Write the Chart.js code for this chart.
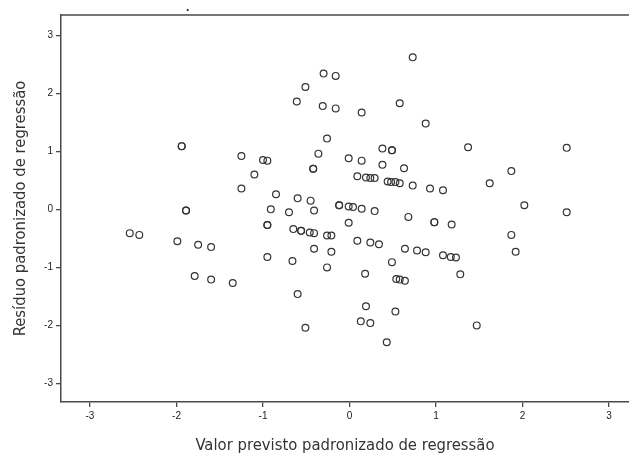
<!DOCTYPE html>
<html>
<head>
<meta charset="utf-8">
<script src="https://cdn.jsdelivr.net/npm/chart.js@4"></script>
<style>
    html, body { margin: 0; padding: 0; background: #fff; }
    canvas { display: block; }
</style>
</head>
<body>
<canvas id="residualChart" width="629" height="459"></canvas>
<script>
// valor previsto padronizado (x) e resíduo padronizado (y)
const predictedValues = [
    -2.54, -2.43, -1.99, -1.75, -1.60, -1.79, -1.60, -1.35, -0.95, -0.95,
    -0.65, -0.66, -0.60, -0.51, -0.56, -0.46, -0.41, -0.41, -1.94, -1.89,
    -1.25, -1.00, -0.95, -1.10, -1.25, -0.85, -0.60, -0.45, -0.91, -0.70,
    -0.41, -0.61, -0.51, -0.30, -0.16, -0.31, -0.16, 0.14, 0.73, 0.58,
    0.88, -0.26, -0.36, -0.42, -0.01, 0.14, 0.38, 0.49, 0.38, 0.63,
    0.09, 0.19, 0.24, 0.29, 0.44, 0.48, 0.53, 0.58, 0.73, 0.93,
    1.08, 1.37, 2.51, 1.87, 1.62, 2.02, 2.51, -0.12, -0.01, 0.04,
    0.14, 0.29, 0.68, 0.98, 1.18, -0.01, -0.26, -0.21, -0.21, -0.26,
    0.09, 0.24, 0.34, 0.49, 0.64, 0.78, 0.88, 1.08, 1.17, 1.23,
    1.28, 0.18, 0.54, 0.58, 0.64, 0.19, 0.53, 0.13, 0.24, 0.43,
    1.47, 1.87, 1.92,
    // pontos repetidos (aparecem mais escuros)
    -0.95, -0.56, -1.94, -1.89, -0.42, 0.49, -0.12, 0.98
];
const residualValues = [
    -0.41, -0.44, -0.55, -0.61, -0.65, -1.15, -1.21, -1.27, -0.27, -0.82,
    -0.34, -0.89, -1.46, -2.04, -0.37, -0.40, -0.41, -0.68, 1.09, -0.02,
    0.92, 0.85, 0.84, 0.60, 0.36, 0.26, 0.19, 0.15, 0.00, -0.05,
    -0.02, 1.86, 2.11, 2.34, 2.30, 1.78, 1.74, 1.67, 2.62, 1.83,
    1.48, 1.22, 0.96, 0.70, 0.88, 0.84, 1.05, 1.02, 0.77, 0.71,
    0.57, 0.55, 0.54, 0.54, 0.48, 0.47, 0.47, 0.45, 0.41, 0.36,
    0.33, 1.07, 1.06, 0.66, 0.45, 0.07, -0.05, 0.07, 0.05, 0.04,
    0.01, -0.03, -0.13, -0.22, -0.26, -0.23, -0.45, -0.45, -0.73, -1.00,
    -0.54, -0.57, -0.60, -0.91, -0.68, -0.71, -0.74, -0.79, -0.82, -0.83,
    -1.12, -1.11, -1.20, -1.21, -1.23, -1.67, -1.76, -1.93, -1.96, -2.29,
    -2.00, -0.44, -0.73,
    -0.27, -0.37, 1.09, -0.02, 0.70, 1.02, 0.07, -0.22
];
const tickValues = [-3, -2, -1, 0, 1, 2, 3];

const axisColor = '#4a4a4a';
const tickFont = { family: "'Liberation Sans', Arial, sans-serif", size: 10 };
const titleFont = { family: "'Liberation Sans Narrow', 'DejaVu Sans Condensed', sans-serif", size: 16.5 };

const points = predictedValues.map((x, i) => ({ x: x, y: residualValues[i] }));

// linha superior da moldura e o ponto do título
const frameTop = {
    id: 'frameTop',
    afterDraw(chart) {
        const { ctx, chartArea } = chart;
        ctx.save();
        ctx.strokeStyle = axisColor;
        ctx.lineWidth = 1.5;
        ctx.beginPath();
        ctx.moveTo(chartArea.left, chartArea.top);
        ctx.lineTo(chartArea.right, chartArea.top);
        ctx.stroke();
        ctx.fillStyle = '#222';
        ctx.font = "bold 12px 'Liberation Sans', sans-serif";
        ctx.fillText('.', 186, 11);
        ctx.restore();
    }
};

function axisOptions(min, max, titleText, isX) {
    return {
        type: 'linear',
        min: min,
        max: max,
        afterBuildTicks: (scale) => {
            scale.ticks = tickValues.map((v) => ({ value: v }));
        },
        afterFit: (scale) => {
            if (isX) {
                scale.height = 57;
                scale.paddingLeft = 0;
                scale.paddingRight = 0;
            } else {
                scale.width = 61;
                scale.paddingTop = 0;
                scale.paddingBottom = 0;
            }
        },
        ticks: {
            includeBounds: false,
            font: tickFont,
            color: '#222',
            padding: 3
        },
        grid: {
            display: true,
            drawOnChartArea: false,
            drawTicks: true,
            tickLength: 5,
            color: axisColor,
            lineWidth: 1.3
        },
        border: {
            display: true,
            color: axisColor,
            width: 1.5
        },
        title: {
            display: true,
            text: titleText,
            font: titleFont,
            color: '#333',
            padding: isX ? { top: 0, bottom: 3 } : { top: 11, bottom: 0 }
        }
    };
}

new Chart(document.getElementById('residualChart'), {
    type: 'scatter',
    data: {
        datasets: [
            {
                data: points,
                pointRadius: 3.4,
                pointHoverRadius: 3.4,
                pointBorderWidth: 1.2,
                pointBorderColor: '#333',
                pointBackgroundColor: 'rgba(0,0,0,0)'
            }
        ]
    },
    options: {
        responsive: false,
        animation: false,
        layout: {
            autoPadding: false,
            padding: { top: 15, right: 0, bottom: 0, left: 0 }
        },
        plugins: {
            legend: { display: false },
            tooltip: { enabled: false }
        },
        scales: {
            x: axisOptions(-3.335, 3.23, 'Valor previsto padronizado de regressão', true),
            y: axisOptions(-3.32, 3.35, 'Resíduo padronizado de regressão', false)
        }
    },
    plugins: [frameTop]
});
</script>
</body>
</html>
